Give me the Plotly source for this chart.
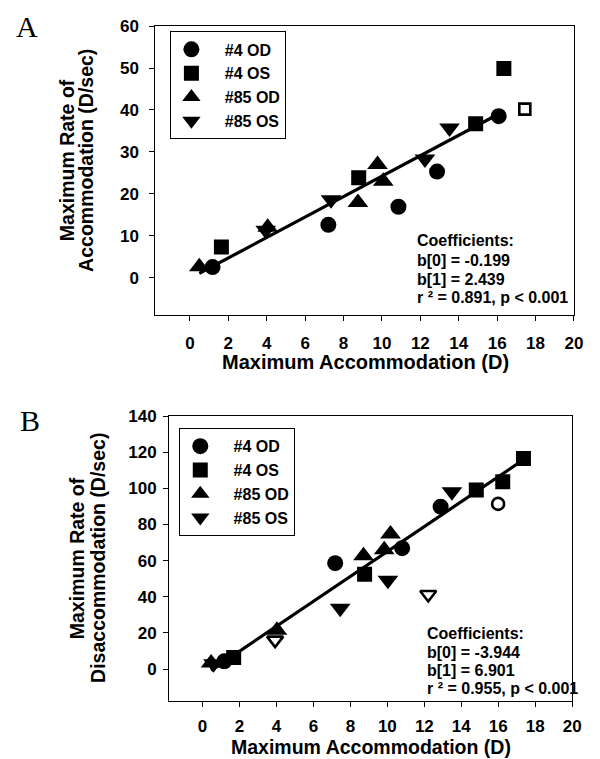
import plotly.graph_objects as go

W, H = 600, 759

# ---------------- Panel A data (Maximum Rate of Accommodation) ----------------
a_od4_x = [1.18, 7.21, 10.86, 12.87, 16.08]
a_od4_y = [2.5, 12.6, 16.9, 25.3, 38.5]
a_os4_x = [1.64, 8.79, 14.88, 16.35]
a_os4_y = [7.3, 23.8, 36.7, 49.9]
a_os4_open_x = [17.44]
a_os4_open_y = [40.2]
a_od85_x = [0.49, 4.05, 8.75, 9.77, 10.07]
a_od85_y = [2.6, 12.0, 17.9, 27.0, 23.0]
a_os85_x = [3.95, 7.35, 12.24, 13.52]
a_os85_y = [11.3, 18.6, 28.3, 35.7]
a_b0, a_b1 = -0.199, 2.439
a_line_x = [0.49, 16.35]

# ---------------- Panel B data (Maximum Rate of Disaccommodation) -------------
b_od4_x = [1.18, 7.18, 10.80, 12.88]
b_od4_y = [4.3, 58.6, 66.9, 89.9]
b_od4_open_x = [15.99]
b_od4_open_y = [91.4]
b_os4_x = [1.69, 8.77, 14.81, 16.24, 17.36]
b_os4_y = [6.4, 52.5, 99.1, 103.7, 116.6]
b_od85_x = [0.47, 4.03, 8.71, 9.83, 10.17]
b_od85_y = [3.4, 21.5, 62.7, 66.0, 74.7]
b_os85_x = [0.6, 7.45, 10.03, 13.49]
b_os85_y = [3.0, 33.6, 49.2, 98.1]
b_os85_open_x = [3.93, 12.21]
b_os85_open_y = [16.0, 41.3]
b_b0, b_b1 = -3.944, 6.901
b_line_x = [0.47, 17.36]

x_ticks = list(range(0, 21, 2))
a_y_ticks = list(range(0, 61, 10))
b_y_ticks = list(range(0, 141, 20))

legend_names = ["#4 OD", "#4 OS", "#85 OD", "#85 OS"]

FONT = "Liberation Sans, Arial, Helvetica, sans-serif"
SERIF = "Liberation Serif, Times New Roman, serif"
NB = "\u00a0\u00a0\u00a0"

fig = go.Figure()

def add_panel(xa, ya, leg, od4, os4, od85, os85, b0, b1, lx, opens):
    fig.add_trace(go.Scatter(x=lx, y=[b0 + b1 * v for v in lx], mode="lines",
                             line=dict(color="black", width=3.2), showlegend=False,
                             xaxis=xa, yaxis=ya, hoverinfo="skip"))
    specs = [(od4, "circle", 16), (os4, "square", 15),
             (od85, "triangle-up", 18), (os85, "triangle-down", 18)]
    for name, (pts, sym, sz) in zip(legend_names, specs):
        fig.add_trace(go.Scatter(x=pts[0], y=pts[1], mode="markers", name=NB + name,
                                 marker=dict(symbol=sym, size=sz, color="black",
                                             line=dict(width=0)),
                                 xaxis=xa, yaxis=ya, legend=leg))
    for (ox, oy, sym, sz) in opens:
        fig.add_trace(go.Scatter(x=ox, y=oy, mode="markers", showlegend=False,
                                 marker=dict(symbol=sym, size=sz, color="black",
                                             line=dict(width=2.6, color="black")),
                                 xaxis=xa, yaxis=ya))

add_panel("x", "y", "legend",
          (a_od4_x, a_od4_y), (a_os4_x, a_os4_y), (a_od85_x, a_od85_y), (a_os85_x, a_os85_y),
          a_b0, a_b1, a_line_x,
          [(a_os4_open_x, a_os4_open_y, "square-open", 11)])
add_panel("x2", "y2", "legend2",
          (b_od4_x, b_od4_y), (b_os4_x, b_os4_y), (b_od85_x, b_od85_y), (b_os85_x, b_os85_y),
          b_b0, b_b1, b_line_x,
          [(b_od4_open_x, b_od4_open_y, "circle-open", 12),
           (b_os85_open_x, b_os85_open_y, "triangle-down-open", 14)])

def px_x(p):
    return p / W

def px_y(p):
    return 1 - p / H

axis_common = dict(showline=True, linecolor="black", linewidth=1, mirror=True,
                   ticks="outside", ticklen=5, tickwidth=1, tickcolor="black",
                   showgrid=False, zeroline=False,
                   tickfont=dict(family=FONT, size=17, color="black", weight="bold"))

fig.update_layout(
    width=W, height=H,
    margin=dict(l=0, r=0, t=0, b=0),
    paper_bgcolor="white", plot_bgcolor="white",
    font=dict(family=FONT, color="black"),
    xaxis=dict(domain=[px_x(157.7), px_x(582.7)], range=[-1.8, 20], tickvals=x_ticks,
               anchor="y", ticklabelstandoff=7, **axis_common),
    yaxis=dict(domain=[px_y(310), px_y(17.3)], range=[-9, 60], tickvals=a_y_ticks,
               anchor="x", ticklabelstandoff=7, **axis_common),
    xaxis2=dict(domain=[px_x(171.7), px_x(581)], range=[-1.8, 20], tickvals=x_ticks,
                anchor="y2", ticklabelstandoff=5, **axis_common),
    yaxis2=dict(domain=[px_y(700), px_y(412)], range=[-17.5, 140], tickvals=b_y_ticks,
                anchor="x2", ticklabelstandoff=3, **axis_common),
    legend=dict(x=px_x(173), y=px_y(22.7), xanchor="left", yanchor="top",
                bordercolor="black", borderwidth=1, bgcolor="white",
                itemsizing="trace",
                font=dict(family=FONT, size=16, color="black", weight="bold")),
    legend2=dict(x=px_x(182), y=px_y(424.3), xanchor="left", yanchor="top",
                 bordercolor="black", borderwidth=1, bgcolor="white",
                 itemsizing="trace",
                 font=dict(family=FONT, size=16, color="black", weight="bold")),
    showlegend=True,
)

ann = []

def text(x, y, s, size=16, angle=0, xanchor="center", family=FONT, weight="bold"):
    ann.append(dict(x=px_x(x), y=px_y(y), xref="paper", yref="paper", text=s,
                    showarrow=False, xanchor=xanchor, yanchor="middle",
                    textangle=angle,
                    font=dict(family=family, size=size, color="black", weight=weight)))

# panel letters
text(27, 18, "A", size=30, family=SERIF, weight="normal")
text(30, 416, "B", size=30, family=SERIF, weight="normal")

# axis titles
text(68, 153, "Maximum Rate of", size=19.5, angle=-90)
text(87, 153, "Accommodation (D/sec)", size=19.5, angle=-90)
text(371, 357, "Maximum Accommodation (D)", size=20)
text(79, 556, "Maximum Rate of", size=19.5, angle=-90)
text(100, 556, "Disaccommodation (D/sec)", size=19.5, angle=-90)
text(377, 747, "Maximum Accommodation (D)", size=19.5)

# coefficient blocks
a_coef = ["Coefficients:", f"b[0] = {a_b0:.3f}", f"b[1] = {a_b1:.3f}",
          "r ² = 0.891, p &lt; 0.001"]
b_coef = ["Coefficients:", f"b[0] = {b_b0:.3f}", f"b[1] = {b_b1:.3f}",
          "r ² = 0.955, p &lt; 0.001"]
for i, s in enumerate(a_coef):
    text(421.7, [234.3, 254.5, 273.3, 291.7][i], s, size=16, xanchor="left")
for i, s in enumerate(b_coef):
    text(431.0, [631.7, 651, 669.3, 687.3][i], s, size=16, xanchor="left")

fig.update_layout(annotations=ann)

fig.write_html(
    "out.html",
    config={"displayModeBar": False},
    post_script="document.body.style.margin='0';document.body.style.padding='0';"
                "document.body.style.overflow='hidden';"
                "document.documentElement.style.overflow='hidden';",
)
